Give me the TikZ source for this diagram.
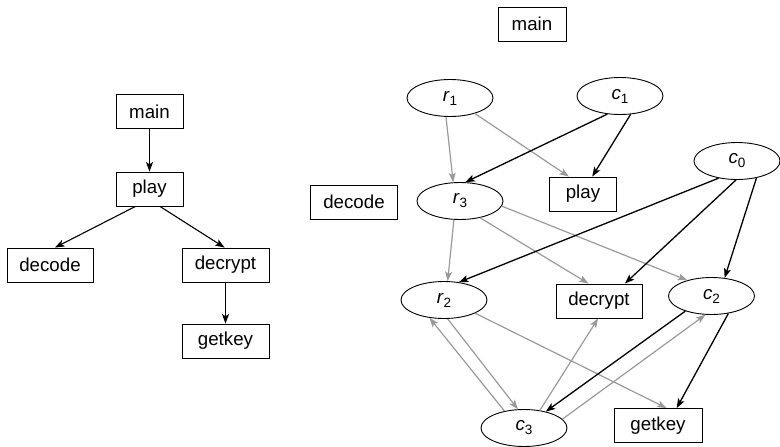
\documentclass[tikz,border=0pt]{standalone}
\usepackage{fontspec}
\setmainfont{Liberation Sans}
\usetikzlibrary{shapes.geometric,arrows.meta}
\newcommand\sublbl[2]{\textit{#1}\raisebox{-0.4ex}{\fontsize{13.5}{14}\selectfont #2}}
\definecolor{edgegray}{HTML}{9A9A9A}
\tikzset{
  box/.style={draw, line width=0.9pt, minimum height=34pt, inner sep=0pt, font=\fontsize{18.7}{22}\selectfont},
  oval/.style={draw, ellipse, line width=0.9pt, minimum width=86pt, minimum height=37pt, inner sep=0pt, font=\fontsize{18.7}{22}\selectfont},
  tip/.style={-{Stealth[length=9.5pt,width=7pt,inset=2.2pt]}},
  blk/.style={tip, line width=1.3pt, black},
  gry/.style={tip, line width=1.2pt, edgegray},
  tree/.style={tip, line width=1.1pt, black},
}
\begin{document}
\begin{tikzpicture}[x=1pt,y=-1pt]
\useasboundingbox (0,0) rectangle (780,447);
% left tree
\node[box, minimum width=67pt] (Lmain) at (149.5,111.5) {main};
\node[box, minimum width=67pt] (Lplay) at (149.5,189) {play};
\node[box, minimum width=86pt] (Ldecode) at (50,265) {decode};
\node[box, minimum width=87pt] (Ldecrypt) at (225.5,265) {decrypt};
\node[box, minimum width=87pt] (Lgetkey) at (225.5,341) {getkey};
\draw[tree] (Lmain) -- (Lplay);
\draw[tree] (Lplay.231.6) -- (Ldecode.74.5);
\draw[tree] (Lplay.301.7) -- (Ldecrypt.93);
\draw[tree] (Ldecrypt) -- (Lgetkey);
% right graph
\node[box, minimum width=68pt] (Rmain) at (532,24) {main};
\node[box, minimum width=87pt] (Rdecode) at (354,202) {decode};
\node[box, minimum width=67pt] (Rplay) at (583,194) {play};
\node[box, minimum width=86pt] (Rdecrypt) at (599,301) {decrypt};
\node[box, minimum width=88pt] (Rgetkey) at (658,425.5) {getkey};
\node[oval] (r1) at (450,98) {\sublbl{r}{1}};
\node[oval] (c1) at (620,96) {\sublbl{c}{1}};
\node[oval] (c0) at (737,161) {\sublbl{c}{0}};
\node[oval] (r3) at (460,201) {\sublbl{r}{3}};
\node[oval] (r2) at (444,300) {\sublbl{r}{2}};
\node[oval] (c2) at (711.5,296) {\sublbl{c}{2}};
\node[oval] (c3) at (524,428) {\sublbl{c}{3}};
% gray edges
\draw[gry] (r1.258) -- (r3.110);
\draw[gry] (r1.-32) -- (Rplay.129);
\draw[gry] (r3.252.5) -- (r2.79);
\draw[gry] (r3.320.7) -- (Rdecrypt.121.4);
\draw[gry] (r3.353.4) -- (c2.147.3);
\draw[gry] (r2.281.3) -- (c3.108.4);
\draw[gry] (c3.139) -- (r2.231.3);
\draw[gry] (r2.337) -- (Rgetkey.64.8);
\draw[gry] (c3.48.2) -- (Rdecrypt.267);
\draw[gry] (c3.13.7) -- (c2.252.8);
% black edges
\draw[blk] (c1.235.6) -- (r3.74.5);
\draw[blk] (c1.300) -- (Rplay.62);
\draw[blk] (c0.223.4) -- (r2.50);
\draw[blk] (c0.267) -- (Rdecrypt.34);
\draw[blk] (c0.319.4) -- (c2.54.6);
\draw[blk] (c2.210.8) -- (c3.37);
\draw[blk] (c2.314) -- (Rgetkey.43.5);
\end{tikzpicture}
\end{document}
